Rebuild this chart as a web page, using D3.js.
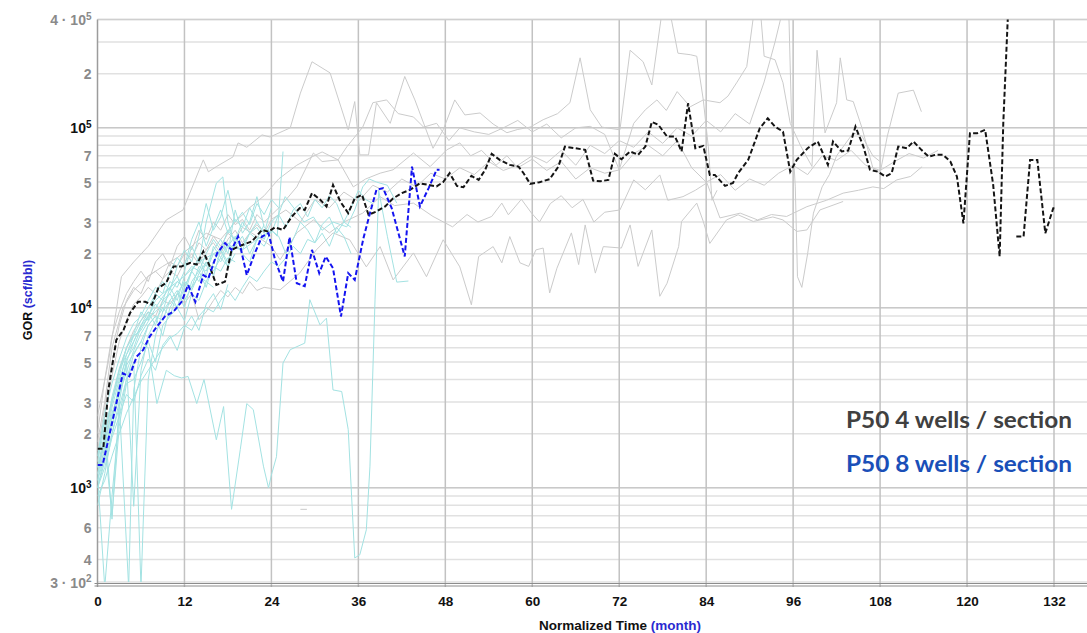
<!DOCTYPE html>
<html>
<head>
<meta charset="utf-8">
<script src="https://cdn.jsdelivr.net/npm/d3@7"></script>
<style>
  body { margin: 0; background: #fff; }
  svg { display: block; }
  .tick text { font-family: "Liberation Sans", Arial, sans-serif; font-weight: bold; }
</style>
</head>
<body>
<svg id="chart" width="1087" height="633"></svg>
<script>
// ---- data (month, GOR scf/bbl) ----
const xTickValues = [0, 12, 24, 36, 48, 60, 72, 84, 96, 108, 120, 132];
const yTickValues = [4e5, 2e5, 1e5, 7e4, 5e4, 3e4, 2e4, 1e4, 7e3, 5e3, 3e3, 2e3, 1e3, 600, 400, 300];
const legendLabels = ["P50 4 wells / section", "P50 8 wells / section"];

// P50 of the 4 wells/section group (black dashed)
const p50FourWells = [[0,1650],[0.8,1650],[1.5,3500],[2.6,6640],[3.6,7550],[4.5,9380],[5.6,10800],[6.6,10800],[7.5,10400],
  [8.4,12900],[9.5,13800],[10.5,17000],[11.6,17000],[12.8,17800],[13.7,17400],[14.6,20600],[15.5,17000],[16.4,13400],
  [17.6,14000],[18.5,21000],[19.4,21900],[21.3,23400],[22.7,27100],[23.6,26500],[24.5,28000],[25.6,27100],[26.8,32100],
  [27.9,35800],[28.6,35000],[29.6,43400],[30.7,40000],[31.6,36600],[32.5,48200],[33.5,39000],[34.6,33600],[35.5,40600],
  [36.5,42500],[37.4,32900],[38.5,34300],[39.7,36600],[40.8,40600],[42,43400],[43.1,45200],[44.5,49200],[45.9,48000],
  [46.8,47300],[47.7,50000],[48.6,56000],[49.6,47600],[50.5,46800],[51.6,54100],[52.6,51400],[53.5,58500],[54.4,71700],
  [55.5,66400],[56.9,62300],[58.1,60900],[58.8,56000],[59.7,48900],[61,49900],[62.4,51900],[63.6,60900],[64.5,78700],
  [65.9,77100],[67.3,75500],[68.4,50900],[69.4,50500],[70.5,51400],[71.4,71700],[72.3,67000],[73.5,74000],[74.6,70800],
  [75.6,78700],[76.5,108000],[77.4,104000],[78.6,89500],[79.7,89500],[80.6,74000],[81.5,137000],[82.5,77100],[83.6,79400],
  [84.5,54800],[85.2,54800],[86.6,47600],[87.7,49500],[88.4,56000],[89.8,66400],[91.4,99600],[92.5,113000],[93.5,101600],
  [94.6,95300],[95.6,57100],[96.5,66400],[98,77100],[99.4,84000],[100.8,62300],[101.5,84000],[102.7,74000],[103.6,74800],
  [104.6,101600],[105.7,78700],[106.6,58500],[107.7,57100],[108.7,53700],[109.6,56000],[110.5,78700],[111.7,77100],
  [112.6,84000],[113.7,75500],[114.7,69200],[115.6,70800],[116.7,70800],[117.7,65000],[118.6,53700],[119.5,29500],
  [120.4,93400],[121.4,93400],[122.5,97500],[123.6,48500],[124.5,19300],[125,106000],[125.7,480000],[126.2,null],
  [126.8,24900],[127.8,24900],[128.7,66400],[129.7,66400],[130.8,26000],[131.9,35800],[132.2,35800]];

// P50 of the 8 wells/section group (blue dashed)
const p50EightWells = [[0,1340],[0.7,1340],[1.5,1850],[2.4,2710],[3.5,4330],[4.4,4160],[5.4,5360],[6.3,5840],[7.2,6930],
  [8.2,7870],[9.3,8960],[10.5,9550],[11.6,10800],[12.5,13400],[13.5,10800],[14.6,15200],[15.3,14600],[16.5,20100],
  [17.6,22900],[18.5,21000],[19.4,24900],[20.6,15200],[21.7,20100],[22.7,24900],[23.6,26000],[24.5,18500],[25.6,14000],
  [26.5,24700],[27.5,13700],[28.6,13200],[29.6,21000],[30.6,15600],[31.5,19300],[32.5,16600],[33.6,8960],[34.6,15600],
  [35.5,14300],[36.7,24400],[37.6,33600],[38.5,45300],[39.4,46300],[40.6,35800],[42.4,19300],[43.4,60900],[44.5,36600],
  [45.7,46300],[46.8,58500],[47.2,58500]];

// individual wells, 4 wells/section (light grey)
const greyWellA = [[0,2500],[1.5,5000],[3.3,14900],[5,18000],[7,22000],[9.5,30800],[11.8,35000],[14.6,66400],[15.3,57000],
  [16.4,60900],[18.7,69000],[19.4,82500],[20.6,78000],[22.7,91400],[23.8,89000],[26.6,100000],[28,156000],[29.6,233000],
  [32.1,202000],[34.6,97500],[35.5,140000],[36.2,70800],[37.4,70800],[38.5,138000],[40.4,106000],[42.4,193000],
  [43.8,143000],[46.3,77000],[47.7,97500],[49.3,143000],[50.7,118000],[52.8,121000],[54.6,105000],[56.5,94000],
  [58,98000],[59.7,101000],[61.5,111000],[63.5,120000],[65.2,138000],[66.6,245000],[68,126000],[69.6,101000],
  [72.1,97500],[73.5,270000],[75.3,233000],[76.5,173000],[77.9,440000],[79,440000],[80.1,260000],[81.8,255000],
  [82.7,250000],[83.6,143000],[84.3,78400],[84.8,39600],[85.5,45000]];
const greyWellB = [[0,1800],[1,3000],[2,6000],[3.5,10000],[5,12500],[7,15000],[9,17000],[11,19000],[13,22000],[15,26000],
  [17,24000],[19,30000],[21,36000],[23,42000],[25,52000],[27.5,62000],[29.6,69000],[31,73500],[33.2,66400],[34.4,78400],
  [36.6,101000],[38,138000],[39.9,143000],[41.5,120000],[43.6,115000],[45,101000],[46.8,106000],[48.5,85000],[50,100000],
  [52,95000],[54,92000],[56,100000],[58,110000],[60,95000],[62,105000],[64,88000],[66,100000],[68,102000],[70,92000],
  [72,58500],[74,106000],[75.6,126000],[77.2,143000],[78.5,125000],[80,159000],[81.8,131000],[83.6,143000],[85.9,138000],
  [87,150000],[88.2,178000],[89.6,219000],[90.6,440000],[91.5,440000],[92,250000],[93.5,239000],[94.6,178000],
  [95.6,106000],[97,80000],[98.6,61000],[99.3,270000],[100.4,93800],[102,138000],[102.5,245000],[103.4,143000],
  [104.3,140000],[105.5,100000],[107,60000],[108,56000],[109,90000],[110.5,156000],[112.6,162000],[113.7,123000]];
const greyWellC = [[0,1200],[1,1800],[2,3000],[3,4500],[4,6000],[5,7500],[6,8500],[7,9500],[8,9000],[9,11000],[10,10500],
  [11,12000],[12,10600],[13,12000],[14,8600],[15,9500],[16,11000],[17,12500],[18,11500],[19,13000],[20,12000],[21,14000],
  [22,12500],[23,13000],[25.2,12600],[27.9,15600],[30.2,21000],[32.5,26100],[34.8,23900],[37.1,16900],[39,21900],
  [40.8,14300],[43.6,20200],[45.4,14900],[47.7,23900],[50,16900],[51.6,10400],[52.6,19300],[54.6,21900],[55.8,17800],
  [56.9,24900],[58.3,17800],[59.5,17000],[60.5,21000],[61.5,21500],[62.4,12100],[63.4,16600],[65.4,26100],[66.4,17400],
  [67.3,28900],[68.7,15600],[69.8,21900],[72.3,21500],[73.5,28900],[74.6,17000],[76.5,27100],[77.6,11600],[78.6,13700],
  [80.2,21900],[80.6,30200],[82.7,38200],[83.6,30200],[84.5,22800],[86.8,30800],[88.4,32900],[90.5,30200],[93.2,32000],
  [94.6,30800],[96.5,26600],[97.9,27100],[99.7,35000],[102.9,39000]];
const greyWellD = [[0,1600],[1,2800],[2,5000],[3,8000],[4,11000],[5,13000],[6,12000],[7,15000],[8,16000],[9,14500],
  [10,18000],[11,17000],[12,20000],[13,19000],[14,23000],[15,21000],[16,25000],[17,22000],[18,26000],[19,24000],[20,28000],
  [22,25000],[24,22000],[25.2,18500],[27.5,26100],[29.8,30800],[32,26100],[34,30000],[36.6,33600],[39,41500],[41,37000],
  [43.6,38200],[46.3,32200],[49,28200],[51,33000],[52.5,30000],[54.4,32200],[55.8,38200],[56.7,32900],[58.5,40100],
  [59.9,33600],[61,30000],[62.5,38000],[64,42000],[65.5,36000],[67,40000],[68.5,30000],[70,34000],[72.1,35000],
  [74,51400],[75.6,45300],[77.6,54800],[78.7,39600],[80.8,41500],[82.5,45000],[84.1,49500],[85.9,31600],[88.7,33600],
  [91.1,30800],[93,33000],[95.1,32200],[97.9,36500],[100.6,39600],[102.9,43400],[105,45000],[107,47000],[108.5,46000],
  [110.3,51400],[112.2,53700],[113.8,60900]];
const greyWellE = [[0,2000],[1,4000],[2,7000],[3,9500],[4,12000],[5,14000],[6,16000],[7,14000],[8,18000],[9,20000],
  [10,17000],[11,22000],[12,25000],[13,21000],[14,27000],[15,24000],[16,30000],[17,27000],[18,33000],[19,29000],[20,31000],
  [21,27000],[22,33000],[23,30000],[25.2,36500],[27.5,47000],[29.8,72500],[31,65000],[33.2,66400],[35.3,47000],[37,52000],
  [39,56000],[40.8,58500],[43.6,72500],[45.9,60900],[48.2,75500],[50,82500],[51.5,70000],[53,75000],[55,62000],
  [56.5,70000],[58,60000],[60,67000],[62,58000],[64,65000],[66,52000],[68,60000],[70,56000],[72.1,58500],[74,72000],
  [76,80000],[78,70000],[80,85000],[82,60000],[84,50000],[86,55000],[88,45000],[90,52000],[92,48000],[94,56000],
  [96,62000],[98,55000],[100,70000],[102,66000],[104,75000],[106,62000],[108,58000],[110,65000],[112,72000],[114,68000],
  [116,75000]];
const greyWellF = [[0,1400],[1,2500],[2,4200],[3,6500],[4,8500],[5,10500],[6,11500],[7,13000],[8,12000],[9,14500],
  [10,16000],[11,15000],[12,18000],[13,20000],[14,17500],[15,21000],[16,23000],[17,20000],[18,24000],[19,27000],
  [20,23000],[21,26000],[22,29000],[23,26000],[24,31000],[26,35000],[28,30000],[30,40000],[32,36000],[34,44000],
  [36,39000],[38,48000],[40,44000],[42,52000],[44,47000],[46,56000],[48,52000],[50,60000],[52,55000],[54,65000],
  [56,58000],[58,62000],[60,70000],[62,64000],[64,75000],[66,62000],[68,80000],[70,72000],[72,85000],[74,78000],
  [76,95000],[78,82000],[80,100000],[82,90000],[84,110000],[86,95000],[88,120000],[90,105000],[92,180000],[93.5,300000],
  [94.5,440000],[95.4,440000],[95.8,106000],[96.3,47000],[96.6,14900],[97.2,13000],[98,20000],[98.8,33600],[100,47000],
  [101,55000],[102,70000],[104.3,93800],[105.5,90000],[107,70000],[108,65000]];
const greyWellG = [[28,760],[28.9,760]];
const greyWells = [greyWellA, greyWellB, greyWellC, greyWellD, greyWellE, greyWellF, greyWellG];

// individual wells, 8 wells/section (light cyan)
const cyanWell1 = [[0,1300],[1,1800],[2,2600],[3,3400],[4,4800],[5,5600],[6,6500],[7,6000],[8.2,2940],[9.5,4500],
  [10.6,4200],[11.6,4080],[12.5,4160],[13.7,2940],[14.7,4000],[16.4,1850],[17.4,2830],[18.5,760],[19.7,1630],[20.6,2940],
  [21.5,2720],[22.9,1320],[23.6,1000],[24,1180],[24.7,1490],[25.6,4940],[26.6,5860],[28.6,6370],[29.3,11100],[30.7,8050],
  [31.6,8770],[32.5,3500],[33.7,3430],[34.6,2110],[35.5,408],[36.2,425],[37.1,585],[37.6,1320],[38.3,11100],[38.8,45000],
  [40,25000],[41.3,13900],[42.9,14100]];
const cyanWell2 = [[0,1400],[1,2200],[2,3000],[3,4500],[4,5500],[5,7000],[6,8500],[7,10000],[8,12000],[9,11000],
  [10,14000],[11,13000],[12,16000],[13,22000],[14,18000],[15,30000],[16.4,49300],[17.3,53400],[18,30000],[19,22000],
  [20,25000],[21,20000],[22,24000]];
const cyanWell3 = [[0,1200],[1,1600],[2,2500],[3,3500],[4,5000],[5,6500],[6,8000],[7,9000],[8,11000],[9,12000],
  [10,13000],[12,15000],[14,18000],[16,20000],[18,22000],[20,21000],[22,24000],[24,27000],[24.8,25000],[25.6,73900]];
const cyanWell4 = [[0,1100],[1,1700],[2,2800],[3,4000],[4,5200],[5,6000],[6,7800],[7,8800],[8,9500],[9,10500],
  [10,12000],[11,14000],[12,13000],[13,16000],[14,19000],[15,17000],[16,21000],[17,24000],[18,20000],[19,35000],
  [20,26000],[21,30000],[22,41500],[23,28000],[24,26000],[25.9,41500],[27.3,35000],[28.5,30000],[29.8,32000],
  [31,27000],[32.5,30000],[34.4,28200],[35.5,35000],[36.6,47000],[37.5,52000],[38.5,50000],[40,48000],[41.3,38200]];
const cyanWell5 = [[0,1000],[1,1500],[2,2400],[3,3800],[4,5500],[5,6500],[6,8000],[7,9500],[8,8000],[9,11000],
  [10,12000],[11,10000],[12,14000],[13,13000],[14,17000],[15,16000],[16,20000],[17,18000],[18,22000],[19,25000],
  [20,21000],[21,26000],[22,28000],[23,24000],[24,30000],[25,33000],[26,28000],[27,35000],[28,38000],[29,32000],
  [30,40000],[31,36000],[32,42000],[33,38000],[34,30000],[35,36000],[36,45000],[37,40000],[38,38000]];
const cyanWell6 = [[0,1300],[1,2000],[2,3000],[3,4200],[4,6000],[5,7000],[6,7500],[7,9000],[8,10500],[9,9500],
  [10,13000],[11,15000],[12,12000],[13,16000],[14,19000],[15,15000],[16,22000],[17,19000],[18,17000],[19,23000],
  [20,20000],[21,18000],[22,24000],[23,22000],[24,27000],[25,25000],[26,20000],[27,24000],[28,30000],[29,27000],
  [30,23000],[31,29000],[32,32000],[33,26000],[34,30000],[35,28000]];
const cyanWell7 = [[0,900],[1,1100],[2,1500],[3,2000],[4,2600],[5,3200],[6,3900],[7,4500],[8,5200],[9,6000],
  [10,6800],[11,7200],[12,8000],[13,7500],[14,9000],[15,10000],[16,9500],[17,11000],[18,12500],[19,11000],[20,13000],
  [21,15000],[22,14000],[23,16000],[24,18000],[25,17000],[26,19000],[27,22000],[28,20000],[29,24000],[30,23000],
  [31,26000],[32,22000],[33,28000],[34,25000],[35,20000]];
const cyanWell8 = [[0,1200],[1,280],[2,900],[3,2500],[4,4000],[5,5500],[6,6500],[7,8000],[8,9000],[9,7000],
  [10,10000],[11,12000],[12,11000],[13,13000],[14,15000],[15,14000],[16,17000],[17,16000],[18,19000],[19,18000]];
const cyanWell9 = [[0,1300],[1,1800],[2,700],[3,2200],[4,3800],[5,4000],[6,5000],[7,6500],[8,5000],[9,8000],
  [10,9000],[11,10000],[12,8500],[13,12000],[14,11000],[15,14000],[16,13000]];
const cyanWell10 = [[0,800],[1,1200],[2,2000],[3,3000],[4.3,280],[5,3500],[6,6000],[7,8000],[8,9000],[9,8500],
  [10,11000],[11,12500],[12,10000],[13,14000],[14,16000],[15,13000],[16,18000],[17,21000],[18,17000],[19,20000]];
const cyanWell11 = [[0,1000],[1,1400],[2,2000],[3,2800],[4,4000],[5,5000],[6,280],[7,4000],[8,7000],[9,9500],
  [10,11000],[11,10000],[12,13000],[13,16000],[14,14000],[15,18000],[16,15000],[17,21000],[18,18000],[19,24000],
  [20,22000],[21,26000],[22,30000],[23,26000],[24,36000]];
const cyanWell12 = [[0,1500],[1,2400],[2,670],[3,3000],[4,5000],[5,790],[6,4500],[7,7000],[8,8500],[9,10000],
  [10,9000],[11,12000],[12,14000],[13,12500],[14,15500],[15,18000],[16,16000],[17,19000],[18,23000],[19,21000]];
const cyanWell13 = [[0,1100],[1,1500],[2,2200],[3,3300],[4,4400],[5,5800],[6,7200],[7,8400],[8,10000],[9,11500],
  [10,13000],[11,11000],[12,15000],[13,17000],[14,16000],[15,20000],[16,24000],[17,21000],[18,27000],[19,24000],
  [20,30000],[21,26000],[22,24000],[23,29000]];
const cyanWell14 = [[0,1500],[1,2600],[2,3800],[3,5200],[4,6800],[5,8200],[6,9000],[7,11000],[8,13000],[9,12000],
  [10,16000],[11,19000],[12,17000],[13,24000],[14,30000],[15,22000],[16,28000],[17,35000],[18,26000],[19,31000],
  [20,28000],[21,36000],[22,30000]];
const cyanWell15 = [[0,1200],[1,1900],[2,3200],[3,4600],[4,6000],[5,7200],[6,9500],[7,8500],[8,12000],[9,14000],
  [10,12500],[11,17000],[12,21000],[13,18000],[14,25000],[15,38000],[16,27000],[17,32000],[18,45000],[19,30000],
  [20,34000],[21,29000],[22,38000],[23,33000],[24,40000],[25,36000]];
const cyanWell16 = [[0,1000],[1,1300],[2,1900],[3,2500],[4,3300],[5,3000],[6,4200],[7,5200],[8,4500],[9,6200],
  [10,7000],[11,5800],[12,7800],[13,9000],[14,7500],[15,10500],[16,12000],[17,9800],[18,13500]];
const cyanWells = [cyanWell1, cyanWell2, cyanWell3, cyanWell4, cyanWell5, cyanWell6, cyanWell7, cyanWell8,
  cyanWell9, cyanWell10, cyanWell11, cyanWell12, cyanWell13, cyanWell14, cyanWell15, cyanWell16];

// ---- chart ----
const width = 1087, height = 633;
const plot = { left: 97.5, top: 19.5, right: 1087, bottom: 582 };

const svg = d3.select("#chart");

const x = d3.scaleLinear().domain([0, 132]).range([plot.left, 1054]);
const y = d3.scaleLog().domain([300, 400000]).range([plot.bottom, plot.top]);

svg.append("defs").append("clipPath").attr("id", "plotClip")
  .append("rect")
  .attr("x", plot.left).attr("y", plot.top)
  .attr("width", plot.right - plot.left).attr("height", plot.bottom - plot.top);

// horizontal grid: minor (2..9) and decade lines
const minorValues = [];
for (let e = 2; e <= 5; e++) {
  for (let m = 1; m <= 9; m++) {
    const v = m * Math.pow(10, e);
    if (v >= 300 && v <= 400000) minorValues.push(v);
  }
}
const grid = svg.append("g").attr("class", "grid");
grid.selectAll("line.minor")
  .data(minorValues.filter(v => ![1e3, 1e4, 1e5].includes(v)))
  .enter().append("line")
  .attr("class", "minor")
  .attr("x1", plot.left).attr("x2", plot.right)
  .attr("y1", d => y(d)).attr("y2", d => y(d))
  .attr("stroke", "#e1e1e1").attr("stroke-width", 1.5);

grid.selectAll("line.decade")
  .data([1e3, 1e4, 1e5])
  .enter().append("line")
  .attr("class", "decade")
  .attr("x1", plot.left).attr("x2", plot.right)
  .attr("y1", d => y(d)).attr("y2", d => y(d))
  .attr("stroke", "#a9a9a9").attr("stroke-width", 1);

// vertical grid every 12 months
grid.selectAll("line.vert")
  .data(xTickValues.slice(1))
  .enter().append("line")
  .attr("class", "vert")
  .attr("x1", d => x(d)).attr("x2", d => x(d))
  .attr("y1", plot.top).attr("y2", plot.bottom + 5)
  .attr("stroke", "#c2c2c2").attr("stroke-width", 1.5);

// frame: top, left, double bottom
svg.append("line").attr("x1", plot.left).attr("x2", plot.right)
  .attr("y1", plot.top).attr("y2", plot.top)
  .attr("stroke", "#cfcfcf").attr("stroke-width", 1.5);
svg.append("line").attr("x1", plot.left).attr("x2", plot.left)
  .attr("y1", plot.top).attr("y2", plot.bottom + 5)
  .attr("stroke", "#9c9c9c").attr("stroke-width", 1.5);
[plot.bottom + 1.5, plot.bottom + 4].forEach(yy => {
  svg.append("line").attr("x1", plot.left - 3).attr("x2", plot.right)
    .attr("y1", yy).attr("y2", yy)
    .attr("stroke", "#8c8c8c").attr("stroke-width", 1);
});

// well lines
const line = d3.line()
  .defined(d => d[1] != null)
  .x(d => x(d[0]))
  .y(d => y(d[1]));

const lines = svg.append("g").attr("clip-path", "url(#plotClip)");

lines.selectAll("path.grey")
  .data(greyWells)
  .enter().append("path")
  .attr("class", "grey")
  .attr("d", line)
  .attr("fill", "none")
  .attr("stroke", "#cbcbcb")
  .attr("stroke-width", 1);

lines.selectAll("path.cyan")
  .data(cyanWells)
  .enter().append("path")
  .attr("class", "cyan")
  .attr("d", line)
  .attr("fill", "none")
  .attr("stroke", "#a3e2e2")
  .attr("stroke-width", 1);

lines.append("path")
  .datum(p50FourWells)
  .attr("d", line)
  .attr("fill", "none")
  .attr("stroke", "#141414")
  .attr("stroke-width", 2)
  .attr("stroke-dasharray", "5,2.5");

lines.append("path")
  .datum(p50EightWells)
  .attr("d", line)
  .attr("fill", "none")
  .attr("stroke", "#1414f0")
  .attr("stroke-width", 2)
  .attr("stroke-dasharray", "5,2.5");

// y axis labels
function yLabel(v) {
  const e = Math.floor(Math.log10(v) + 1e-9);
  const m = Math.round(v / Math.pow(10, e));
  if (m === 1) return { base: "10", sup: String(e), major: true };
  if (v === 4e5 || v === 300) return { base: m + " \u00b7 10", sup: String(e), major: false };
  return { base: String(m), sup: null, major: false };
}

const yAxis = svg.append("g")
  .attr("transform", `translate(${plot.left - 6},0)`)
  .call(d3.axisLeft(y).tickValues(yTickValues).tickSize(0).tickPadding(0).tickFormat(""));
yAxis.select(".domain").remove();
yAxis.selectAll(".tick text")
  .attr("font-size", 14)
  .attr("dy", "0.36em")
  .each(function(d) {
    const p = yLabel(d);
    const t = d3.select(this)
      .attr("fill", p.major ? "#111" : "#8a8a8a");
    t.append("tspan").text(p.base);
    if (p.sup) {
      t.append("tspan").attr("font-size", 10).attr("dy", "-0.55em").text(p.sup);
    }
  });

// x axis
const xAxis = svg.append("g")
  .attr("transform", `translate(0,${plot.bottom + 10})`)
  .call(d3.axisBottom(x).tickValues(xTickValues).tickSize(0).tickPadding(4));
xAxis.select(".domain").remove();
xAxis.selectAll(".tick text")
  .attr("font-size", 13.5)
  .attr("fill", "#111");

// axis titles
const xTitle = svg.append("text")
  .attr("x", 620).attr("y", 630)
  .attr("text-anchor", "middle")
  .attr("font-family", "Liberation Sans, Arial, sans-serif")
  .attr("font-weight", "bold").attr("font-size", 13.5)
  .attr("fill", "#111");
xTitle.append("tspan").text("Normalized Time ");
xTitle.append("tspan").attr("fill", "#2a2ad0").text("(month)");

const yTitle = svg.append("text")
  .attr("transform", "translate(32,300) rotate(-90)")
  .attr("text-anchor", "middle")
  .attr("font-family", "Liberation Sans, Arial, sans-serif")
  .attr("font-weight", "bold").attr("font-size", 12.5)
  .attr("fill", "#111");
yTitle.append("tspan").text("GOR ");
yTitle.append("tspan").attr("fill", "#2a2ad0").text("(scf/bbl)");

// legend text
const legendColors = ["#404040", "#1a4fb8"];
svg.selectAll("text.legend")
  .data(legendLabels)
  .enter().append("text")
  .attr("class", "legend")
  .attr("x", 1072)
  .attr("y", (d, i) => 428 + i * 43.5)
  .attr("text-anchor", "end")
  .attr("font-family", "Lato, 'Open Sans', sans-serif")
  .attr("font-weight", "bold")
  .attr("font-size", 23)
  .attr("textLength", 226)
  .attr("lengthAdjust", "spacingAndGlyphs")
  .attr("fill", (d, i) => legendColors[i])
  .text(d => d);
</script>
</body>
</html>
